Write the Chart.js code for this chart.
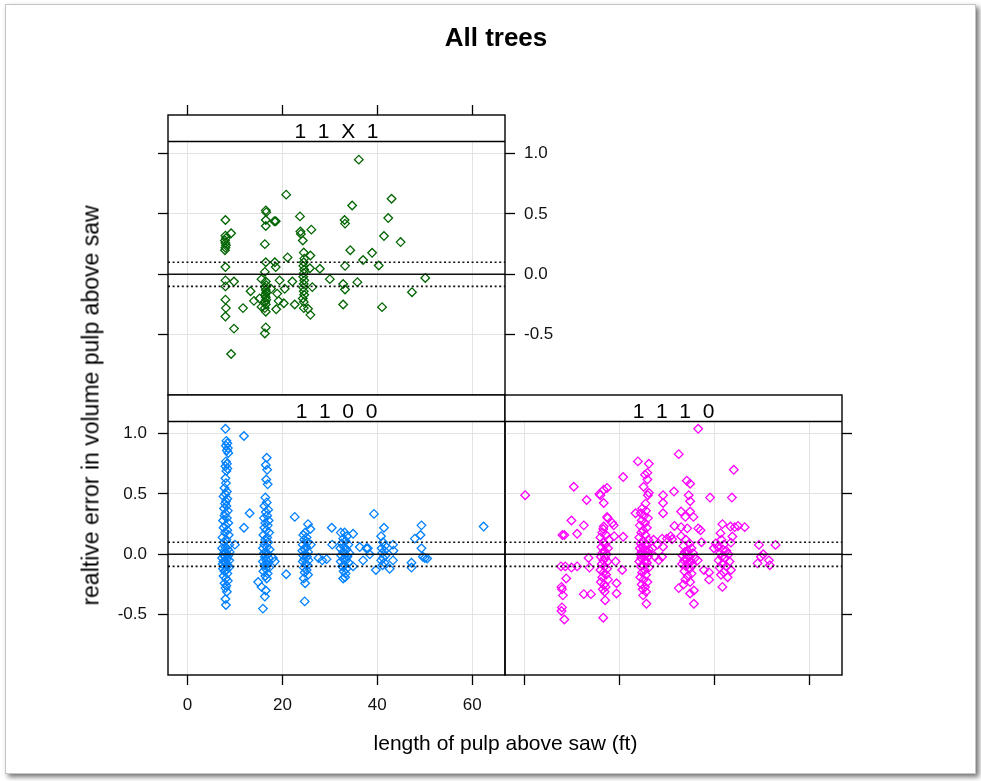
<!DOCTYPE html>
<html><head><meta charset="utf-8">
<script src="https://cdn.jsdelivr.net/npm/chart.js@4"></script>
<style>
html,body{margin:0;padding:0;background:#fff;width:981px;height:781px;overflow:hidden;}
canvas{position:absolute;left:0;top:0;}
.t{position:absolute;font-family:"Liberation Sans",Arial,sans-serif;color:#000;white-space:pre;text-align:center;}
#frame{position:absolute;left:5px;top:4px;width:969px;height:768px;border:1px solid #c4c4c4;box-shadow:3px 3px 5px rgba(0,0,0,0.55);}
</style></head>
<body>
<div id="frame"></div>
<canvas id="c1" width="981" height="781"></canvas>
<canvas id="c2" width="981" height="781"></canvas>
<canvas id="c3" width="981" height="781"></canvas>
<div class="t" style="left:0;width:992px;top:24px;font-size:26px;line-height:26px;font-weight:bold;">All trees</div>
<div class="t" id="s1" style="left:168px;width:337px;top:120px;font-size:21px;line-height:21px;"></div>
<div class="t" id="s2" style="left:168px;width:337px;top:400px;font-size:21px;line-height:21px;"></div>
<div class="t" id="s3" style="left:505px;width:337px;top:400px;font-size:21px;line-height:21px;"></div>
<div class="t" id="xl" style="left:168px;width:675px;top:732px;font-size:21px;line-height:21px;"></div>
<div class="t" id="yl" style="left:-159px;width:500px;top:394px;font-size:23px;line-height:23px;transform:rotate(-90deg);"></div>
<script>
// ---- text ----
const stripLabels = ["1  1  X  1", "1  1  0  0", "1  1  1  0"];
const xTitle = "length of pulp above saw (ft)";
const yTitle = "realtive error in volume pulp above saw";

// ---- ticks ----
const xTickValues = [0, 20, 40, 60];
const xTickLabels = ["0", "20", "40", "60"];
const yTickValues = [-0.5, 0, 0.5, 1.0];
const yTickLabels = ["-0.5", "0.0", "0.5", "1.0"];
const refLines = [-0.1, 0, 0.1];

// ---- data: panel "1 1 X 1" (green) ----
const green08 = [[8.0,0.45],[8.0,0.32],[8.1,0.30],[7.9,0.28],[8.0,0.26],[8.1,0.24],[8.0,0.22],[7.9,0.20],[9.2,0.34],[8.0,0.06],[8.0,-0.05],[8.0,-0.10],[9.8,-0.06],[8.0,-0.21],[8.1,-0.28],[8.0,-0.35],[9.8,-0.45],[9.2,-0.66]];
const green17 = [[16.5,0.53],[16.6,0.515],[16.5,0.45],[16.5,0.40],[18.3,0.44],[18.6,0.44],[16.3,0.25],[16.5,0.10],[18.4,0.10],[18.6,0.06],[16.3,0.02],[15.6,-0.04],[16.5,-0.06],[16.6,-0.09],[16.4,-0.11],[16.5,-0.13],[16.6,-0.15],[16.4,-0.17],[16.5,-0.19],[16.6,-0.21],[16.4,-0.23],[16.5,-0.25],[16.3,-0.28],[16.5,-0.31],[16.5,-0.44],[16.3,-0.49],[15.2,-0.20],[15.6,-0.27],[17.6,-0.12],[18.9,-0.16],[18.7,-0.29],[19.4,-0.05],[19.2,-0.22],[20.3,-0.24],[13.3,-0.14],[14.0,-0.22],[11.7,-0.28],[20.8,0.66],[21.1,0.14],[20.5,-0.12],[22.1,-0.06],[22.6,-0.25]];
const green25 = [[23.7,0.48],[23.8,0.355],[23.9,0.335],[26.1,0.37],[24.3,0.28],[24.5,0.18],[24.6,0.13],[24.5,0.10],[24.4,0.07],[24.6,0.04],[24.5,0.01],[24.4,-0.02],[24.6,-0.05],[24.5,-0.08],[24.4,-0.11],[24.5,-0.14],[24.6,-0.17],[24.3,-0.20],[24.5,-0.23],[24.5,-0.28],[25.9,0.156],[25.8,0.05],[26.3,-0.106],[25.4,-0.286],[25.9,-0.336],[27.9,0.046],[30.0,-0.04]];
const green33 = [[33.1,0.45],[33.2,0.42],[34.7,0.57],[36.1,0.95],[34.3,0.20],[33.2,0.07],[32.8,-0.08],[33.2,-0.126],[32.8,-0.25],[35.8,-0.065],[37.0,0.118],[38.9,0.178],[40.3,0.073],[41.4,0.317],[42.3,0.466],[43.0,0.626],[44.9,0.267],[41.0,-0.272],[47.3,-0.148],[50.1,-0.03]];

// ---- data: panel "1 1 0 0" (blue) ----
const blue08 = [[8.0,1.04],[8.2,0.94],[8.4,0.92],[8.1,0.90],[8.5,0.88],[8.3,0.86],[8.6,0.84],[8.1,0.77],[8.3,0.75],[8.0,0.73],[8.4,0.71],[8.2,0.69],[8.0,0.63],[8.1,0.59],[7.8,0.55],[8.3,0.52],[8.0,0.50],[7.6,0.48],[8.4,0.46],[8.1,0.44],[7.9,0.42],[8.2,0.40],[7.7,0.38],[8.5,0.36],[8.0,0.34],[7.8,0.32],[8.3,0.30],[7.5,0.28],[8.6,0.26],[8.0,0.24],[7.6,0.22],[8.4,0.20],[7.9,0.18],[8.7,0.16],[7.4,0.14],[8.2,0.12],[7.7,0.10],[8.8,0.08],[8.0,0.06],[7.3,0.05],[8.5,0.04],[7.8,0.03],[8.9,0.02],[8.1,0.01],[7.5,0.00],[8.6,-0.01],[7.9,-0.02],[7.3,-0.03],[8.3,-0.04],[8.8,-0.05],[7.6,-0.06],[8.1,-0.07],[7.4,-0.08],[8.5,-0.09],[7.9,-0.10],[8.7,-0.11],[7.5,-0.12],[8.2,-0.13],[7.8,-0.14],[8.4,-0.16],[7.6,-0.18],[8.1,-0.20],[8.5,-0.22],[7.8,-0.24],[8.2,-0.26],[8.0,-0.28],[8.3,-0.31],[8.0,-0.37],[8.1,-0.42],[11.9,0.98],[13.1,0.34],[11.9,0.22],[10.0,0.08]];
const blue17 = [[16.7,0.80],[16.5,0.74],[16.8,0.70],[16.6,0.62],[16.9,0.58],[16.4,0.47],[16.7,0.43],[16.2,0.40],[17.0,0.37],[16.5,0.35],[16.8,0.32],[16.1,0.30],[17.1,0.28],[16.4,0.26],[16.9,0.24],[16.2,0.22],[16.6,0.20],[17.2,0.18],[16.0,0.16],[16.8,0.14],[16.4,0.12],[17.0,0.10],[16.2,0.08],[16.7,0.06],[15.9,0.05],[17.3,0.04],[16.5,0.02],[16.1,0.01],[16.9,0.00],[16.3,-0.02],[17.1,-0.03],[16.6,-0.05],[15.9,-0.06],[16.8,-0.08],[16.2,-0.09],[17.2,-0.11],[16.5,-0.12],[16.0,-0.14],[16.9,-0.16],[16.4,-0.18],[16.7,-0.20],[14.9,-0.23],[15.6,-0.27],[16.5,-0.30],[16.3,-0.35],[15.9,-0.45],[18.4,-0.06],[18.0,-0.03],[20.8,-0.165],[22.6,0.31]];
const blue25 = [[25.4,0.25],[25.9,0.21],[24.8,0.18],[24.4,0.16],[25.1,0.14],[24.6,0.12],[25.3,0.10],[24.3,0.08],[25.0,0.06],[24.7,0.04],[24.2,0.03],[25.4,0.02],[24.9,0.00],[24.4,-0.01],[25.2,-0.02],[24.6,-0.04],[25.5,-0.05],[24.3,-0.06],[24.9,-0.08],[25.3,-0.09],[24.5,-0.11],[25.1,-0.13],[24.7,-0.15],[25.4,-0.17],[24.5,-0.20],[24.8,-0.24],[24.7,-0.39],[26.0,0.08],[27.6,-0.03],[28.4,-0.05],[29.3,-0.04],[30.4,0.22],[30.5,0.08]];
const blue33 = [[32.3,0.18],[33.1,0.18],[34.9,0.17],[33.6,0.15],[32.8,0.13],[33.3,0.11],[32.5,0.09],[33.9,0.08],[33.0,0.06],[32.2,0.05],[33.5,0.04],[32.8,0.02],[34.1,0.01],[33.2,0.00],[32.4,-0.01],[33.7,-0.02],[32.9,-0.04],[33.4,-0.05],[32.3,-0.06],[34.0,-0.07],[33.1,-0.09],[32.6,-0.10],[33.5,-0.12],[32.9,-0.14],[33.3,-0.16],[32.8,-0.20],[33.2,-0.19],[34.9,-0.10],[36.3,0.06],[37.7,0.05],[37.0,-0.05],[38.4,0.00],[38.0,0.05],[39.3,0.335],[39.7,-0.13]];
const blue41 = [[41.4,0.22],[40.8,0.15],[41.2,0.10],[41.6,0.07],[40.9,0.05],[41.5,0.03],[41.0,0.01],[41.7,-0.01],[41.2,-0.03],[40.8,-0.05],[41.5,-0.07],[41.1,-0.09],[42.6,-0.12],[43.3,0.08],[43.4,0.03],[43.3,-0.05]];
const blue49 = [[49.3,0.24],[49.1,0.16],[47.9,0.13],[49.3,0.05],[49.6,-0.02],[50.5,-0.035],[50.0,-0.03],[47.2,-0.07],[47.2,-0.11],[62.4,0.23]];

// ---- data: panel "1 1 1 0" (magenta) ----
const pink08 = [[0.15,0.49],[10.4,0.56],[9.9,0.28],[8.0,0.16],[8.4,0.16],[11.1,0.17],[12.5,0.24],[13.1,0.45],[7.7,-0.10],[8.6,-0.10],[9.9,-0.11],[11.1,-0.10],[13.7,-0.11],[13.5,-0.03],[8.8,-0.20],[7.8,-0.27],[7.9,-0.29],[8.1,-0.34],[7.9,-0.44],[7.8,-0.47],[8.4,-0.54],[12.5,-0.33],[14.0,-0.33]];
const pink17 = [[15.8,0.50],[16.7,0.535],[17.4,0.55],[16.0,0.49],[16.7,0.425],[17.5,0.30],[18.5,0.26],[16.7,0.23],[16.6,0.21],[17.4,0.31],[18.8,0.24],[16.4,0.18],[17.2,0.16],[16.0,0.14],[17.8,0.12],[16.6,0.10],[17.0,0.08],[16.2,0.06],[17.6,0.05],[16.8,0.03],[16.4,0.01],[17.3,0.00],[16.1,-0.02],[17.0,-0.03],[16.6,-0.05],[17.5,-0.06],[16.3,-0.08],[16.9,-0.10],[17.4,-0.12],[16.0,-0.13],[16.7,-0.15],[17.2,-0.17],[16.4,-0.19],[17.6,-0.21],[16.1,-0.23],[16.8,-0.25],[17.1,-0.27],[16.5,-0.29],[16.9,-0.31],[16.6,-0.525],[17.0,-0.38],[19.4,-0.24],[19.4,-0.325],[20.6,-0.13],[20.8,0.145],[20.8,0.64],[23.4,0.34],[18.9,0.15],[19.2,-0.06]];
const pink25 = [[23.9,0.77],[26.2,0.75],[25.9,0.675],[25.4,0.66],[25.9,0.62],[25.1,0.56],[26.2,0.51],[26.0,0.49],[25.5,0.42],[24.8,0.38],[25.6,0.36],[24.5,0.34],[25.2,0.32],[26.0,0.30],[24.7,0.28],[25.4,0.26],[24.3,0.24],[25.8,0.22],[25.0,0.20],[24.6,0.18],[25.5,0.16],[24.2,0.14],[26.1,0.12],[25.0,0.11],[24.5,0.09],[25.7,0.08],[24.9,0.06],[24.3,0.05],[26.2,0.04],[25.3,0.03],[24.7,0.02],[25.9,0.01],[24.4,0.00],[25.2,-0.01],[26.0,-0.02],[24.6,-0.03],[25.5,-0.05],[24.2,-0.06],[25.8,-0.07],[25.0,-0.09],[24.5,-0.10],[26.2,-0.11],[25.3,-0.13],[24.8,-0.15],[25.6,-0.17],[24.4,-0.19],[25.1,-0.21],[25.9,-0.23],[24.7,-0.25],[25.4,-0.27],[24.9,-0.29],[25.6,-0.31],[25.0,-0.34],[25.7,-0.41],[27.0,0.05],[27.5,-0.02],[28.0,0.08],[27.2,0.12],[29.2,0.49],[29.2,0.425],[29.2,0.34],[29.0,0.13],[30.0,0.13],[29.2,0.063],[31.1,0.125],[30.8,0.15],[28.3,-0.05],[29.0,-0.02]];
const pink33 = [[31.5,0.52],[32.5,0.83],[36.6,1.04],[34.2,0.61],[34.9,0.585],[34.6,0.49],[34.9,0.44],[33.0,0.355],[33.9,0.31],[35.6,0.31],[34.9,0.355],[31.6,0.235],[33.0,0.225],[34.3,0.215],[36.6,0.215],[33.0,0.15],[37.3,0.10],[39.9,0.05],[39.1,0.47],[34.0,0.12],[34.8,0.09],[33.5,0.07],[35.2,0.05],[34.4,0.03],[33.8,0.02],[35.5,0.01],[34.1,0.00],[33.3,-0.01],[34.7,-0.02],[35.9,-0.03],[34.2,-0.04],[33.6,-0.05],[35.1,-0.06],[34.5,-0.07],[33.2,-0.08],[35.4,-0.09],[34.0,-0.10],[34.8,-0.12],[33.7,-0.14],[35.2,-0.16],[34.4,-0.18],[33.9,-0.21],[34.9,-0.23],[33.5,-0.25],[37.8,-0.13],[38.9,-0.21],[32.5,-0.28],[34.9,-0.325],[35.7,-0.30],[35.7,-0.41],[37.1,0.20],[38.9,-0.15],[36.5,-0.05]];
const pink41 = [[44.1,0.70],[43.7,0.47],[41.7,0.25],[41.3,0.175],[43.4,0.23],[44.3,0.225],[45.0,0.235],[46.4,0.225],[43.8,0.147],[43.5,0.097],[41.5,0.12],[42.0,0.08],[40.8,0.06],[41.8,0.04],[42.5,0.03],[41.2,0.01],[43.0,0.00],[41.6,-0.02],[42.3,-0.03],[40.9,-0.05],[43.2,-0.06],[41.7,-0.08],[42.6,-0.10],[41.1,-0.11],[43.5,-0.13],[42.0,-0.15],[41.4,-0.17],[42.8,-0.19],[41.7,-0.27],[40.3,0.09]];
const pink49 = [[49.4,0.078],[52.9,0.078],[49.8,-0.02],[49.1,-0.075],[51.5,-0.05],[51.7,-0.09],[50.3,0.00]];

// ---- styling / layout constants ----
const FONT = "'Liberation Sans', Arial, sans-serif";
const X_MIN = -4.1, X_MAX = 66.9;
const Y_MIN = -1.0, Y_MAX = 1.32, PLOT_Y_MAX = 1.10;
const colGreen = "#006400", colBlue = "#0080ff", colPink = "#ff00ff";

document.getElementById('s1').textContent = stripLabels[0];
document.getElementById('s2').textContent = stripLabels[1];
document.getElementById('s3').textContent = stripLabels[2];
document.getElementById('xl').textContent = xTitle;
document.getElementById('yl').textContent = yTitle;

const latticePlugin = {
  id: 'lattice',
  afterDatasetsDraw(chart) {
    const {ctx, chartArea: a} = chart;
    const ys = chart.scales.y;
    const sb = ys.getPixelForValue(PLOT_Y_MAX);
    ctx.save();
    ctx.beginPath(); ctx.rect(a.left, sb, a.right - a.left, a.bottom - sb); ctx.clip();
    ctx.strokeStyle = '#111';
    refLines.forEach(v => {
      const py = ys.getPixelForValue(v);
      ctx.beginPath();
      if (v === 0) { ctx.setLineDash([]); ctx.lineWidth = 1.4; }
      else { ctx.setLineDash([2, 2.6]); ctx.lineWidth = 1.7; }
      ctx.moveTo(a.left, py); ctx.lineTo(a.right, py); ctx.stroke();
    });
    ctx.restore();
  },
  afterDraw(chart) {
    const {ctx, chartArea: a} = chart;
    const ys = chart.scales.y;
    const sb = ys.getPixelForValue(PLOT_Y_MAX);
    ctx.save();
    ctx.fillStyle = '#fff';
    ctx.fillRect(a.left, a.top, a.right - a.left, sb - a.top);
    ctx.strokeStyle = '#000'; ctx.lineWidth = 1.4; ctx.setLineDash([]);
    ctx.strokeRect(a.left, a.top, a.right - a.left, a.bottom - a.top);
    ctx.beginPath(); ctx.moveTo(a.left, sb); ctx.lineTo(a.right, sb); ctx.stroke();
    ctx.restore();
  }
};

function axis(kind, pos, o) {
  const isX = kind === 'x';
  return {
    type: 'linear', axis: kind, position: pos,
    min: isX ? X_MIN : Y_MIN, max: isX ? X_MAX : Y_MAX,
    afterBuildTicks: s => { s.ticks = (isX ? xTickValues : yTickValues).map(v => ({value: v})); },
    ticks: {
      display: !!o.labels, autoSkip: false, maxRotation: 0, minRotation: 0,
      padding: o.pad || 0, color: '#111', font: {family: FONT, size: 17},
      callback: v => isX ? xTickLabels[xTickValues.indexOf(v)] : yTickLabels[yTickValues.indexOf(v)]
    },
    grid: {display: true, drawOnChartArea: !!o.grid, drawTicks: !!o.marks, tickLength: 10,
           color: '#e3e3e3', lineWidth: 1, tickColor: '#000', tickWidth: 1.3},
    border: {display: false},
    afterFit: s => { if (isX) s.height = o.size; else s.width = o.size; }
  };
}

function panel(id, pts, color, scales, padding) {
  return new Chart(document.getElementById(id), {
    type: 'scatter',
    data: {datasets: [{
      data: pts.map(p => ({x: p[0], y: p[1]})),
      pointStyle: 'rectRot', pointRadius: 4.3, pointBorderWidth: 1.3,
      pointBorderColor: color, pointBackgroundColor: 'rgba(0,0,0,0)',
      borderColor: color, backgroundColor: 'rgba(0,0,0,0)', showLine: false
    }]},
    options: {
      responsive: false, animation: false, devicePixelRatio: 1, events: [],
      layout: {padding},
      plugins: {legend: {display: false}, tooltip: {enabled: false}},
      scales
    },
    plugins: [latticePlugin]
  });
}

panel('c1', [].concat(green08, green17, green25, green33), colGreen, {
  x: axis('x', 'bottom', {grid: true, size: 0}),
  xt: axis('x', 'top', {marks: true, size: 10}),
  y: axis('y', 'left', {grid: true, marks: true, size: 10}),
  yr: axis('y', 'right', {marks: true, labels: true, pad: 9, size: 60})
}, {left: 158, right: 416, top: 105, bottom: 386});

panel('c2', [].concat(blue08, blue17, blue25, blue33, blue41, blue49), colBlue, {
  x: axis('x', 'bottom', {grid: true, marks: true, labels: true, pad: 10, size: 50}),
  y: axis('y', 'left', {grid: true, marks: true, labels: true, pad: 11, size: 68})
}, {left: 100, right: 476, top: 395, bottom: 56});

panel('c3', [].concat(pink08, pink17, pink25, pink33, pink41, pink49), colPink, {
  x: axis('x', 'bottom', {grid: true, marks: true, size: 10}),
  y: axis('y', 'right', {grid: true, marks: true, size: 10})
}, {left: 505, right: 129, top: 395, bottom: 96});
</script>
</body></html>
